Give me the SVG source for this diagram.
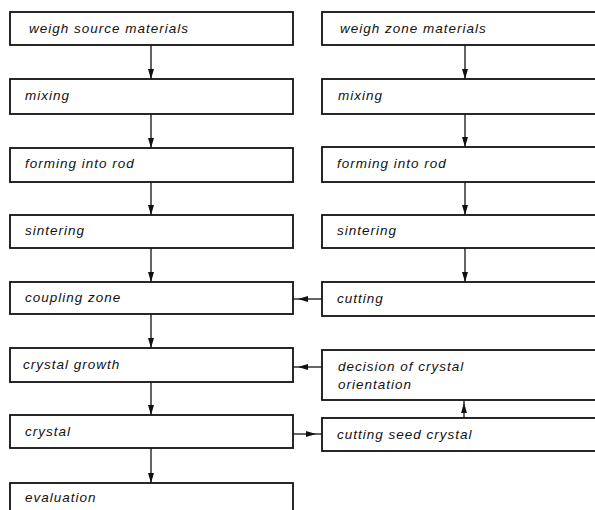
<svg xmlns="http://www.w3.org/2000/svg" width="595" height="510" viewBox="0 0 595 510">
<style>
.box{fill:#fff;stroke:#111;stroke-width:1.8}
.t{font-family:"Liberation Sans",Arial,sans-serif;font-style:italic;font-size:13.5px;letter-spacing:1px;fill:#111}
.c{stroke:#111;stroke-width:1.3;fill:none}
</style>
<defs>
<marker id="ah" viewBox="0 0 10 6" refX="10" refY="3" markerWidth="10" markerHeight="6" markerUnits="userSpaceOnUse" orient="auto">
<path d="M0,0 L10,3 L0,6 Z" fill="#111"/>
</marker>
</defs>
<rect width="595" height="510" fill="#fff"/>
<g id="connectors">
<path class="c" d="M151,45 V79" marker-end="url(#ah)"/>
<path class="c" d="M151,114 V148" marker-end="url(#ah)"/>
<path class="c" d="M151,182 V215" marker-end="url(#ah)"/>
<path class="c" d="M151,248 V282" marker-end="url(#ah)"/>
<path class="c" d="M151,314 V348" marker-end="url(#ah)"/>
<path class="c" d="M151,382 V415" marker-end="url(#ah)"/>
<path class="c" d="M151,448 V483" marker-end="url(#ah)"/>
<path class="c" d="M465,45 V79" marker-end="url(#ah)"/>
<path class="c" d="M465,114 V147" marker-end="url(#ah)"/>
<path class="c" d="M465,182 V215" marker-end="url(#ah)"/>
<path class="c" d="M465,248 V282" marker-end="url(#ah)"/>
<path class="c" d="M322,299 H298" marker-end="url(#ah)"/>
<path class="c" d="M298,299 H293"/>
<path class="c" d="M322,367 H298" marker-end="url(#ah)"/>
<path class="c" d="M298,367 H293"/>
<path class="c" d="M293,434 H316" marker-end="url(#ah)"/>
<path class="c" d="M316,434 H322"/>
<path class="c" d="M464,418 V403" marker-end="url(#ah)"/>
<path class="c" d="M464,403 V400"/>
</g>
<g id="n1"><rect class="box" x="10" y="12" width="283" height="33"/><text class="t" x="29" y="33">weigh source materials</text></g>
<g id="n2"><rect class="box" x="10" y="79" width="283" height="35"/><text class="t" x="25" y="100">mixing</text></g>
<g id="n3"><rect class="box" x="10" y="148" width="283" height="34"/><text class="t" x="25" y="168">forming into rod</text></g>
<g id="n4"><rect class="box" x="10" y="215" width="283" height="33"/><text class="t" x="25" y="235">sintering</text></g>
<g id="n5"><rect class="box" x="10" y="282" width="283" height="32"/><text class="t" x="25" y="302">coupling zone</text></g>
<g id="n6"><rect class="box" x="10" y="348" width="283" height="34"/><text class="t" x="23" y="369">crystal growth</text></g>
<g id="n7"><rect class="box" x="10" y="415" width="283" height="33"/><text class="t" x="25" y="436">crystal</text></g>
<g id="n8"><rect class="box" x="10" y="483" width="283" height="32"/><text class="t" x="25" y="502">evaluation</text></g>
<g id="r1"><rect class="box" x="322" y="12" width="282" height="33"/><text class="t" x="340" y="33">weigh zone materials</text></g>
<g id="r2"><rect class="box" x="322" y="79" width="282" height="35"/><text class="t" x="338" y="100">mixing</text></g>
<g id="r3"><rect class="box" x="322" y="147" width="282" height="35"/><text class="t" x="337" y="168">forming into rod</text></g>
<g id="r4"><rect class="box" x="322" y="215" width="282" height="33"/><text class="t" x="337" y="235">sintering</text></g>
<g id="r5"><rect class="box" x="322" y="282" width="282" height="34"/><text class="t" x="337" y="303">cutting</text></g>
<g id="r6"><rect class="box" x="322" y="350" width="282" height="50"/><text class="t" x="338" y="371">decision of crystal</text><text class="t" x="338" y="389">orientation</text></g>
<g id="r7"><rect class="box" x="322" y="418" width="282" height="33"/><text class="t" x="337" y="439">cutting seed crystal</text></g>
</svg>
